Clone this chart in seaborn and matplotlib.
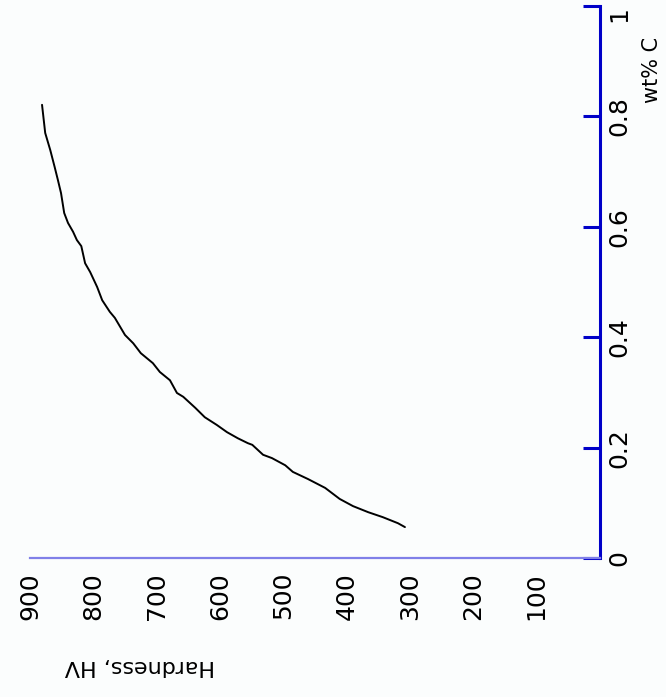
import matplotlib
matplotlib.use("Agg")
import matplotlib.pyplot as plt
import seaborn as sns
import pandas as pd

# Data (rotated chart: hardness runs horizontally right-to-left, carbon runs vertically)
hardness = [881, 876, 868, 861, 856, 851, 846, 840, 832, 826, 819, 813, 805, 794,
            786, 774, 766, 750, 737, 725, 706, 695, 679, 668, 658, 639, 624, 605,
            589, 572, 556, 549, 532, 518, 497, 485, 461, 434, 411, 390, 366, 343,
            319, 308]
carbon = [0.821, 0.770, 0.739, 0.708, 0.685, 0.661, 0.625, 0.607, 0.591, 0.576,
          0.565, 0.534, 0.518, 0.491, 0.467, 0.446, 0.435, 0.404, 0.389, 0.371,
          0.353, 0.337, 0.322, 0.299, 0.292, 0.272, 0.255, 0.241, 0.228, 0.217,
          0.208, 0.205, 0.187, 0.181, 0.168, 0.156, 0.143, 0.127, 0.107, 0.094,
          0.083, 0.074, 0.063, 0.056]
hv_ticks = [900, 800, 700, 600, 500, 400, 300, 200, 100]
hv_labels = ["900", "800", "700", "600", "500", "400", "300", "200", "100"]
c_ticks = [0, 0.2, 0.4, 0.6, 0.8, 1.0]
c_labels = ["0", "0.2", "0.4", "0.6", "0.8", "1"]
hv_title = "Hardness, HV"
c_title = "wt% C"

df = pd.DataFrame({"HV": hardness, "C": carbon})

sns.set_style("white")
plt.rcParams['font.family'] = ['DejaVu Sans']
plt.rcParams['text.color'] = 'black'

fig = plt.figure(figsize=(6.66, 6.97), dpi=100)
fig.patch.set_facecolor("#fbfdfd")
ax = fig.add_axes([30 / 666, (697 - 558) / 697, 570 / 666, 552 / 697])
ax.set_facecolor("#fbfdfd")

sns.lineplot(data=df, x="HV", y="C", sort=False, color="black", linewidth=1.4,
             ax=ax, estimator=None)

ax.set_xlim(900, 0)
ax.set_ylim(0, 1)
ax.set_xlabel("")
ax.set_ylabel("")

for s in ["left", "top"]:
    ax.spines[s].set_visible(False)
ax.spines["right"].set_visible(True)
ax.spines["right"].set_color("#0000c8")
ax.spines["right"].set_linewidth(2.2)
ax.spines["bottom"].set_color("#8080e8")
ax.spines["bottom"].set_linewidth(1.6)

ax.yaxis.tick_right()
ax.set_yticks(c_ticks)
ax.set_yticklabels(c_labels, rotation=90, va="center", ha="left")
ax.set_xticks(hv_ticks)
ax.set_xticklabels(hv_labels, rotation=90, ha="center", va="top")

ax.tick_params(axis="both", direction="in", length=12, width=2.2,
               color="#0000c8", labelsize=18, labelcolor="black")
ax.tick_params(axis="x", pad=10)
ax.tick_params(axis="y", pad=5)

# keep the top "1" label inside the figure
ax.get_yticklabels()[-1].set_va("top")

# the 700 tick mark is absent in the reference
ax.xaxis.get_major_ticks()[2].tick1line.set_visible(False)

fig.text(140 / 666, 1 - 666 / 697, hv_title, rotation=180, ha="center",
         va="center", fontsize=16, color="black")
fig.text(652 / 666, 1 - 70 / 697, c_title, rotation=90, ha="center",
         va="center", fontsize=15, color="black")

fig.savefig("out.png", dpi=100, facecolor=fig.get_facecolor())
